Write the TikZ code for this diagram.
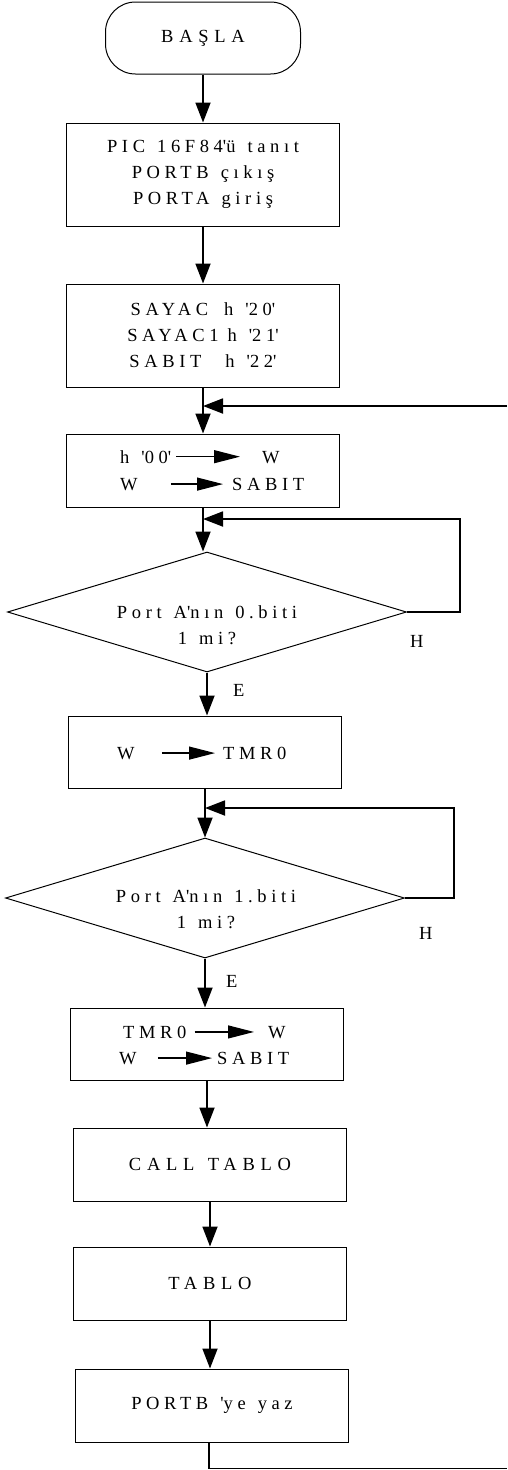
\documentclass[tikz,border=0pt]{standalone}
\usepackage{fontspec}
\setmainfont{Liberation Serif}
\newfontfamily\flowfam{Liberation Serif}[LetterSpace=25,WordSpace=1.3]
\newfontfamily\widefam{Liberation Serif}[LetterSpace=31,WordSpace=1.3]
\usetikzlibrary{arrows.meta,shapes.geometric}
\newcommand\aps{\textquotesingle}
\tikzset{
  txt/.style={inner sep=0pt, font=\flowfam\fontsize{18.5}{26}\selectfont},
  wide/.style={font=\widefam\fontsize{18.5}{26}\selectfont},
  box/.style={draw, line width=1pt, minimum width=273pt, minimum height=73pt, inner sep=0pt, align=center, txt},
  term/.style={box, rounded corners=30pt, minimum width=195pt, minimum height=72pt},
  dec/.style={draw, line width=1pt, diamond, aspect=3.325, minimum width=399pt, minimum height=120pt, inner sep=0pt},
  conn/.style={line width=1.8pt, -{Triangle[length=20pt, width=15pt]}},
  line/.style={line width=1.8pt},
  inarr/.style={line width=1.2pt, -{Triangle[length=26pt, width=13pt]}},
  lbl/.style={inner sep=0pt, anchor=base west, font=\fontsize{18.5}{26}\selectfont}
}
\begin{document}
\begin{tikzpicture}[x=1pt,y=-1pt]
\useasboundingbox (0,0) rectangle (507,1470);
% nodes
\node[term, wide] (start) at (203,38) {BAŞLA};
\node[box, minimum height=103pt] (init) at (203,174.5) {PIC 16F84\aps ü tanıt\\PORTB çıkış\\PORTA giriş};
\node[box, minimum height=103pt] (vars) at (203,335.5) {SAYAC\hspace{4pt} h \aps 20\aps\\SAYAC1\hspace{-3pt} h \aps 21\aps\\SABIT\hspace{12pt} h \aps 22\aps};
\node[box] (clr) at (203,470.5) {};
\node[txt, anchor=base west] (c1a) at (120,463) {h \aps 00\aps};
\node[txt, anchor=base west] (c1b) at (262,463) {W};
\node[txt, anchor=base west] (c2a) at (120,490) {W};
\node[txt, anchor=base west] (c2b) at (232,490) {SABIT};
\node[dec] (q1) at (207,612) {};
\node[txt, align=center] (q1t) at (207,625) {Port A\aps nın 0.biti\\1 mi?};
\node[box, minimum height=72pt] (tmr) at (205,752) {};
\node[txt, anchor=base west] (t1a) at (117,759) {W};
\node[txt, anchor=base west] (t1b) at (223,759) {TMR0};
\node[dec] (q2) at (205,898) {};
\node[txt, align=center] (q2t) at (206,909) {Port A\aps nın 1.biti\\1 mi?};
\node[box, minimum height=72pt] (rd) at (207,1044) {};
\node[txt, anchor=base west] (r1a) at (123,1038) {TMR0};
\node[txt, anchor=base west] (r1b) at (268,1038) {W};
\node[txt, anchor=base west] (r2a) at (119,1064) {W};
\node[txt, anchor=base west] (r2b) at (217,1064) {SABIT};
\node[box, wide] (call) at (210,1164.5) {CALL TABLO};
\node[box, wide] (tab) at (210,1283.5) {TABLO};
\node[box] (wr) at (212,1405.5) {PORTB \aps ye yaz};
% labels
\node[lbl] (h1) at (410,647) {H};
\node[lbl] (e1) at (233,696) {E};
\node[lbl] (h2) at (419,939) {H};
\node[lbl] (e2) at (226,987) {E};
% inner arrows
\draw[inarr, shorten <=5pt, shorten >=22pt] (c1a.east) -- (c1a.east -| c1b.west);
\draw[inarr, shorten <=33pt, shorten >=9pt] (c2a.east) -- (c2a.east -| c2b.west);
\draw[inarr, shorten <=27pt, shorten >=8pt] (t1a.east) -- (t1a.east -| t1b.west);
\draw[inarr, shorten <=8pt, shorten >=14pt] (r1a.east) -- (r1a.east -| r1b.west);
\draw[inarr, shorten <=21pt, shorten >=5pt] (r2a.east) -- (r2a.east -| r2b.west);
% main flow
\draw[conn] (start.south) -- (start.south |- init.north);
\draw[conn] (init.south) -- (init.south |- vars.north);
\draw[conn] (vars.south) -- (vars.south |- clr.north);
\draw[conn] (clr.south) -- (clr.south |- q1.north);
\draw[conn] (q1.south) -- (q1.south |- tmr.north);
\draw[conn] (tmr.south) -- (tmr.south |- q2.north);
\draw[conn] (q2.south) -- (q2.south |- rd.north);
\draw[conn] (rd.south) -- (rd.south |- call.north);
\draw[conn] (call.south) -- (call.south |- tab.north);
\draw[conn] (tab.south) -- (tab.south |- wr.north);
% loops
\coordinate (back) at (507,406);
\draw[conn] (back) -- (back -| vars.south);
\coordinate (k1) at (460,519);
\draw[conn] (q1.east) -| (k1) -- (k1 -| clr.south);
\coordinate (k2) at (454,808);
\draw[conn] (q2.east) -| (k2) -- (k2 -| tmr.south);
\coordinate (bot) at (507,1468.5);
\draw[line] ([xshift=-3pt]wr.south) |- (bot);
\end{tikzpicture}
\end{document}
